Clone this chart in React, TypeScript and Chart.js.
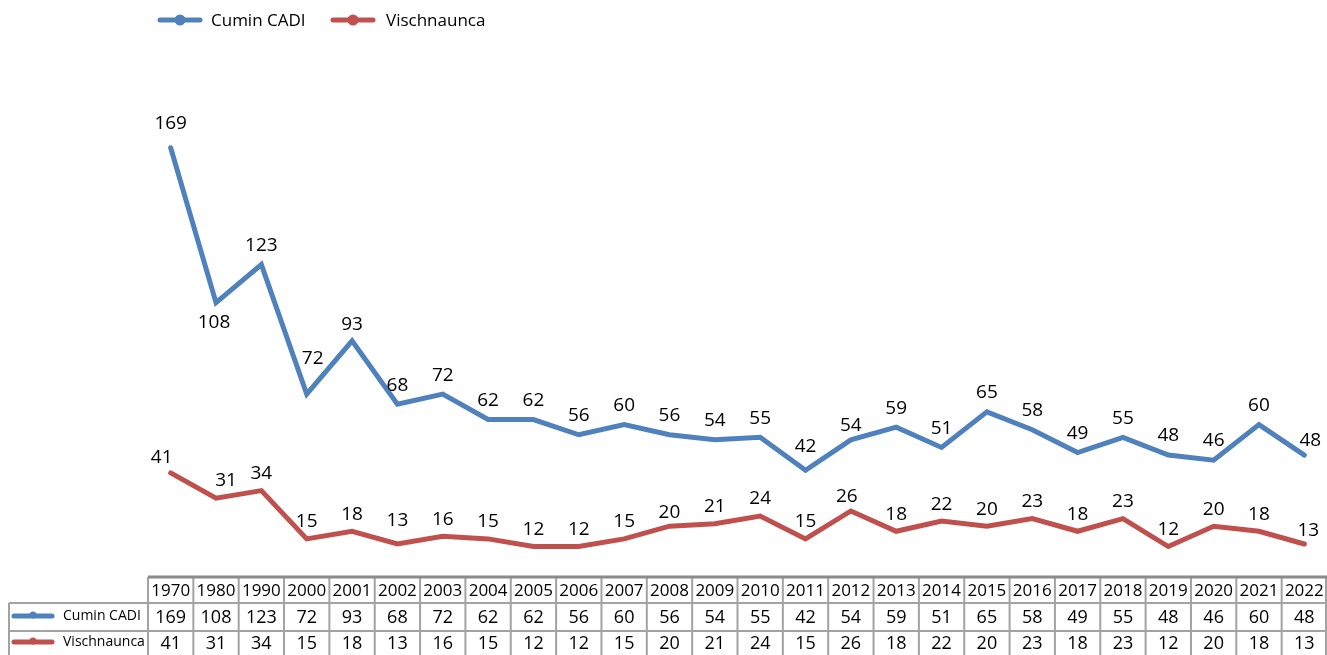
import React, { useEffect, useRef } from "react";
import { Chart, registerables } from "chart.js";

Chart.register(...registerables);

const years = ["1970","1980","1990","2000","2001","2002","2003","2004","2005","2006","2007","2008","2009","2010","2011","2012","2013","2014","2015","2016","2017","2018","2019","2020","2021","2022"];
const cuminCadi = [169,108,123,72,93,68,72,62,62,56,60,56,54,55,42,54,59,51,65,58,49,55,48,46,60,48];
const vischnaunca = [41,31,34,15,18,13,16,15,12,12,15,20,21,24,15,26,18,22,20,23,18,23,12,20,18,13];
const seriesNames = ["Cumin CADI", "Vischnaunca"];
const seriesColors = ["#4F81BD", "#C0504D"];

// label placement tweaks (style only): [dx, dy] relative to point
const blueLabelOffsets: Record<number, [number, number]> = { 0: [0, -24], 1: [-2, 20], 3: [6, -36], 4: [0, -16], 14: [0, -24], 15: [0, -14], 23: [0, -20], 25: [6, -14] };
const redLabelOffsets: Record<number, [number, number]> = { 0: [-9, -15], 1: [10, -18], 5: [0, -23], 11: [0, -14], 15: [-4, -14], 25: [4, -13] };
const labelOffsets = [blueLabelOffsets, redLabelOffsets];
const defaultDy = [-19, -17];

const FONT = "'Open Sans', 'Noto Sans', sans-serif";

const tablePlugin = {
  id: "tableAndLabels",
  afterDraw(chart: any) {
    const ctx = chart.ctx as CanvasRenderingContext2D;
    const xs = chart.scales.x;
    const area = chart.chartArea;
    const n = years.length;
    const colW = (area.right - area.left) / n;
    ctx.save();

    // data labels
    ctx.fillStyle = "#000";
    ctx.font = `19px ${FONT}`;
    ctx.textAlign = "center";
    ctx.textBaseline = "middle";
    chart.data.datasets.forEach((ds: any, di: number) => {
      const meta = chart.getDatasetMeta(di);
      meta.data.forEach((pt: any, i: number) => {
        const off = labelOffsets[di][i] || [0, defaultDy[di]];
        ctx.fillText(String(ds.data[i]), pt.x + off[0], pt.y + off[1]);
      });
    });

    // legend
    const legendY = 20;
    const legendItems = [
      { x: 160, tx: 211 },
      { x: 333, tx: 386 },
    ];
    legendItems.forEach((it, i) => {
      ctx.strokeStyle = seriesColors[i];
      ctx.lineWidth = 5;
      ctx.lineCap = "round";
      ctx.beginPath();
      ctx.moveTo(it.x, legendY);
      ctx.lineTo(it.x + 40, legendY);
      ctx.stroke();
      ctx.fillStyle = seriesColors[i];
      ctx.beginPath();
      ctx.arc(it.x + 20, legendY, 5.5, 0, Math.PI * 2);
      ctx.fill();
      ctx.fillStyle = "#000";
      ctx.font = `17px ${FONT}`;
      ctx.textAlign = "left";
      ctx.fillText(seriesNames[i], it.tx, legendY + 1);
    });

    // data table
    const top = area.bottom;
    const r1 = top + 26;
    const r2 = r1 + 28;
    const bottom = chart.height;
    const leftX = 9;
    ctx.strokeStyle = "#a3a3a3";
    ctx.lineWidth = 2;
    ctx.lineCap = "butt";
    ctx.beginPath();
    ctx.moveTo(leftX, r1); ctx.lineTo(area.right, r1);
    ctx.moveTo(leftX, r2); ctx.lineTo(area.right, r2);
    ctx.moveTo(leftX, r1); ctx.lineTo(leftX, bottom);
    for (let i = 0; i <= n; i++) {
      const x = Math.min(area.left + i * colW, area.right - 1);
      ctx.moveTo(x, top); ctx.lineTo(x, bottom);
    }
    ctx.stroke();
    ctx.strokeStyle = "#8a8a8a";
    ctx.lineWidth = 3;
    ctx.beginPath();
    ctx.moveTo(area.left, top); ctx.lineTo(area.right, top);
    ctx.stroke();

    ctx.fillStyle = "#000";
    ctx.textAlign = "center";
    ctx.textBaseline = "middle";
    ctx.font = `17px ${FONT}`;
    years.forEach((y, i) => {
      const cx = xs.getPixelForValue(i);
      ctx.fillText(y, cx, (top + r1) / 2 + 1);
    });
    const rowsData = [cuminCadi, vischnaunca];
    const rowCenters = [(r1 + r2) / 2 + 1, (r2 + bottom) / 2 + 1];
    rowsData.forEach((row, ri) => {
      ctx.font = `18px ${FONT}`;
      ctx.textAlign = "center";
      ctx.fillStyle = "#000";
      row.forEach((v, i) => {
        const cx = xs.getPixelForValue(i);
        ctx.fillText(String(v), cx, rowCenters[ri]);
      });
      const my = rowCenters[ri] - 2;
      ctx.strokeStyle = seriesColors[ri];
      ctx.lineWidth = 5;
      ctx.lineCap = "round";
      ctx.beginPath();
      ctx.moveTo(14, my); ctx.lineTo(52, my);
      ctx.stroke();
      ctx.fillStyle = seriesColors[ri];
      ctx.beginPath();
      ctx.arc(33, my - 1, 3.5, 0, Math.PI * 2);
      ctx.fill();
      ctx.fillStyle = "#000";
      ctx.font = `14px ${FONT}`;
      ctx.textAlign = "left";
      ctx.fillText(seriesNames[ri], 63, rowCenters[ri] - 2);
    });
    ctx.restore();
  },
};

export default function App() {
  const ref = useRef<HTMLCanvasElement | null>(null);
  useEffect(() => {
    if (!ref.current) return;
    const chart = new Chart(ref.current, {
      type: "line",
      data: {
        labels: years,
        datasets: [
          { label: seriesNames[0], data: cuminCadi, borderColor: seriesColors[0], backgroundColor: seriesColors[0], borderWidth: 5, pointRadius: 0, tension: 0, borderCapStyle: "round", borderJoinStyle: "miter" },
          { label: seriesNames[1], data: vischnaunca, borderColor: seriesColors[1], backgroundColor: seriesColors[1], borderWidth: 5, pointRadius: 0, tension: 0, borderCapStyle: "round", borderJoinStyle: "miter" },
        ],
      },
      options: {
        responsive: false,
        animation: false,
        layout: { padding: { left: 148, right: 0, top: 69, bottom: 78 } },
        plugins: { legend: { display: false }, tooltip: { enabled: false } },
        scales: {
          x: { type: "category", offset: true, display: false, grid: { display: false } },
          y: { min: 0, max: 200, display: false, grid: { display: false } },
        },
      } as any,
      plugins: [tablePlugin],
    });
    return () => chart.destroy();
  }, []);
  return (
    <div style={{ position: "absolute", left: 0, top: 0, width: 1327, height: 655, background: "#fff" }}>
      <canvas ref={ref} width={1327} height={655} style={{ width: 1327, height: 655, display: "block" }} />
    </div>
  );
}
